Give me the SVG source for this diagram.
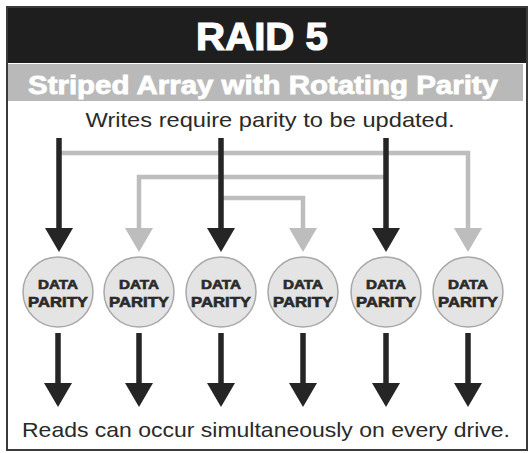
<svg xmlns="http://www.w3.org/2000/svg" width="531" height="453" viewBox="0 0 531 453">
<defs>
<style>
.frame{fill:#fff;stroke:#3a3a3a;stroke-width:2}
.blk{stroke:#252525;stroke-width:5.5;fill:none}
.gry{stroke:#bdbdbd;stroke-width:4.5;fill:none}
.disk{fill:#e4e4e4;stroke:#a8a8a8;stroke-width:1.5}
.lbl{font-family:"Liberation Sans",Arial,sans-serif;font-weight:bold;fill:#2a2a2a;stroke:#2a2a2a;stroke-width:0.6;text-anchor:middle}
.body{font-family:"Liberation Sans",Arial,sans-serif;fill:#2a2a2a;text-anchor:middle;font-size:21px}
.head{font-family:"Liberation Sans",Arial,sans-serif;font-weight:bold;fill:#fff;stroke:#fff;text-anchor:middle}
</style>
<marker id="ab" markerUnits="userSpaceOnUse" markerWidth="28" markerHeight="24" refX="14" refY="0" orient="0" overflow="visible"><path d="M0,0 L28,0 L14,24 Z" fill="#252525"/></marker>
<marker id="ag" markerUnits="userSpaceOnUse" markerWidth="28" markerHeight="24" refX="14" refY="0" orient="0" overflow="visible"><path d="M0,0 L28,0 L14,24 Z" fill="#bdbdbd"/></marker>
</defs>
<rect class="frame" x="7" y="7" width="520" height="443"/>
<g id="header">
<rect x="8" y="8" width="518" height="55" fill="#1e1e1e"/>
<text class="head" x="262" y="50" font-size="39" stroke-width="1.2" textLength="132" lengthAdjust="spacingAndGlyphs">RAID 5</text>
<rect x="8" y="64" width="515" height="37" fill="#b9b9b9"/>
<text class="head" x="263" y="94" font-size="25" stroke-width="0.8" textLength="470" lengthAdjust="spacingAndGlyphs">Striped Array with Rotating Parity</text>
</g>
<text id="writes" class="body" x="270" y="127" textLength="369" lengthAdjust="spacingAndGlyphs">Writes require parity to be updated.</text>
<g id="connectors">
<path class="gry" d="M61,153 H468 V228" marker-end="url(#ag)"/>
<path class="gry" d="M386,177 H139 V228" marker-end="url(#ag)"/>
<path class="gry" d="M221,198 H303 V228" marker-end="url(#ag)"/>
<path class="blk" d="M59,138 V228" marker-end="url(#ab)"/>
<path class="blk" d="M221,138 V228" marker-end="url(#ab)"/>
<path class="blk" d="M386,138 V228" marker-end="url(#ab)"/>
<path class="blk" d="M58,333 V383" marker-end="url(#ab)"/>
<path class="blk" d="M139,333 V383" marker-end="url(#ab)"/>
<path class="blk" d="M221,333 V383" marker-end="url(#ab)"/>
<path class="blk" d="M303,333 V383" marker-end="url(#ab)"/>
<path class="blk" d="M386,333 V383" marker-end="url(#ab)"/>
<path class="blk" d="M468,333 V383" marker-end="url(#ab)"/>
</g>
<g id="drive1"><circle class="disk" cx="58" cy="292" r="35"/><text class="lbl" x="58" y="289" font-size="12" textLength="40" lengthAdjust="spacingAndGlyphs">DATA</text><text class="lbl" x="58" y="307" font-size="14" textLength="60" lengthAdjust="spacingAndGlyphs">PARITY</text></g>
<g id="drive2"><circle class="disk" cx="139" cy="292" r="35"/><text class="lbl" x="139" y="289" font-size="12" textLength="40" lengthAdjust="spacingAndGlyphs">DATA</text><text class="lbl" x="139" y="307" font-size="14" textLength="60" lengthAdjust="spacingAndGlyphs">PARITY</text></g>
<g id="drive3"><circle class="disk" cx="221" cy="292" r="35"/><text class="lbl" x="221" y="289" font-size="12" textLength="40" lengthAdjust="spacingAndGlyphs">DATA</text><text class="lbl" x="221" y="307" font-size="14" textLength="60" lengthAdjust="spacingAndGlyphs">PARITY</text></g>
<g id="drive4"><circle class="disk" cx="303" cy="292" r="35"/><text class="lbl" x="303" y="289" font-size="12" textLength="40" lengthAdjust="spacingAndGlyphs">DATA</text><text class="lbl" x="303" y="307" font-size="14" textLength="60" lengthAdjust="spacingAndGlyphs">PARITY</text></g>
<g id="drive5"><circle class="disk" cx="386" cy="292" r="35"/><text class="lbl" x="386" y="289" font-size="12" textLength="40" lengthAdjust="spacingAndGlyphs">DATA</text><text class="lbl" x="386" y="307" font-size="14" textLength="60" lengthAdjust="spacingAndGlyphs">PARITY</text></g>
<g id="drive6"><circle class="disk" cx="468" cy="292" r="35"/><text class="lbl" x="468" y="289" font-size="12" textLength="40" lengthAdjust="spacingAndGlyphs">DATA</text><text class="lbl" x="468" y="307" font-size="14" textLength="60" lengthAdjust="spacingAndGlyphs">PARITY</text></g>
<text id="reads" class="body" x="266" y="437" textLength="488" lengthAdjust="spacingAndGlyphs">Reads can occur simultaneously on every drive.</text>
</svg>
